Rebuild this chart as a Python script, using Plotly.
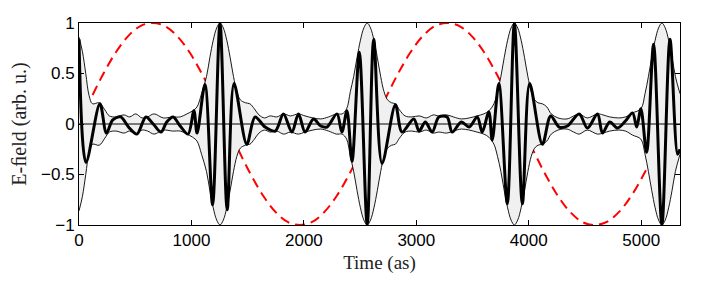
import plotly.graph_objects as go

# ---------------- data ----------------
# thick black waveform: key points (time in as, field)
wave_t = [0, 62, 186, 244, 300, 371, 440, 515, 595, 660, 729, 780, 837, 900, 970, 1022, 1050,
          1120, 1188, 1254, 1318, 1379, 1492, 1566, 1655, 1745, 1818, 1893, 1952, 2011, 2086,
          2150, 2205, 2294, 2338, 2383, 2428, 2493, 2563, 2621, 2695, 2814, 2873, 2977, 3025,
          3080, 3141, 3200, 3274, 3319, 3400, 3470, 3542, 3586, 3645, 3675, 3734, 3809, 3872,
          3943, 4008, 4121, 4195, 4270, 4344, 4448, 4522, 4611, 4656, 4720, 4790, 4860, 4923,
          4960, 4997, 5048, 5110, 5184, 5256, 5324, 5345]
wave_y = [0.84, -0.38, 0.20, -0.09, 0.04, 0.07, -0.03, -0.10, 0.07, 0.0, -0.08, 0.02, 0.07, -0.02, -0.10, 0.13, -0.09,
          0.39, -0.80, 1.0, -0.85, 0.40, -0.20, 0.07, -0.03, -0.07, 0.10, -0.08, 0.10, -0.08, 0.05,
          -0.02, -0.03, 0.10, -0.08, 0.13, -0.37, 0.71, -1.0, 0.84, -0.39, 0.19, -0.08, 0.05, -0.07,
          0.02, -0.08, 0.07, 0.07, -0.08, 0.02, -0.03, 0.07, -0.08, 0.12, -0.16, 0.40, -0.79, 1.0,
          -0.79, 0.40, -0.20, 0.08, -0.03, -0.02, 0.10, -0.04, 0.10, -0.09, 0.02, -0.04, 0.03, 0.11,
          -0.03, 0.15, -0.28, 0.79, -1.0, 0.84, -0.30, -0.25]

# envelope (upper half; the lower half is its mirror image)
env_t = [0, 30, 60, 90, 120, 180, 230, 270, 330, 400, 450, 505, 560, 610, 668, 750, 832, 900, 960,
         1010, 1050, 1090, 1134, 1164, 1194, 1224, 1254, 1284, 1314, 1344, 1374, 1404, 1434, 1480,
         1520, 1560, 1600, 1650, 1700, 1760, 1820, 1880, 1950, 2010, 2080, 2150, 2220, 2290, 2340,
         2380, 2413, 2443, 2473, 2503, 2533, 2563, 2593, 2623, 2653, 2683, 2713, 2743, 2780, 2814,
         2850, 2900, 2960, 3025, 3090, 3150, 3200, 3270, 3330, 3400, 3470, 3540, 3600, 3645, 3690,
         3722, 3752, 3782, 3812, 3842, 3872, 3902, 3932, 3962, 3992, 4022, 4052, 4082, 4121, 4160,
         4200, 4260, 4340, 4400, 4448, 4520, 4611, 4660, 4720, 4800, 4860, 4923, 4997, 5034, 5064,
         5094, 5124, 5154, 5184, 5214, 5244, 5274, 5304, 5345]
env_y = [0.86, 0.72, 0.50, 0.28, 0.20, 0.21, 0.14, 0.08, 0.07, 0.09, 0.07, 0.10, 0.06, 0.07, 0.10, 0.06, 0.07, 0.07, 0.10,
         0.13, 0.17, 0.30, 0.47, 0.66, 0.83, 0.95, 1.0, 0.95, 0.83, 0.66, 0.47, 0.32, 0.24, 0.21,
         0.20, 0.15, 0.09, 0.06, 0.08, 0.07, 0.10, 0.08, 0.10, 0.08, 0.06, 0.05, 0.07, 0.10, 0.10,
         0.15, 0.32, 0.47, 0.66, 0.83, 0.95, 1.0, 0.95, 0.83, 0.66, 0.47, 0.32, 0.24, 0.21, 0.20,
         0.14, 0.08, 0.07, 0.08, 0.06, 0.09, 0.08, 0.09, 0.07, 0.05, 0.06, 0.08, 0.10, 0.13, 0.20,
         0.32, 0.47, 0.66, 0.83, 0.95, 1.0, 0.95, 0.83, 0.66, 0.47, 0.32, 0.24, 0.21, 0.20, 0.17,
         0.10, 0.06, 0.05, 0.08, 0.10, 0.06, 0.10, 0.09, 0.07, 0.06, 0.07, 0.11, 0.15, 0.30, 0.47,
         0.66, 0.83, 0.95, 1.0, 0.95, 0.83, 0.66, 0.47, 0.30]
env_lower = [-v for v in env_y]

# driving laser field (red dashed), sampled every 1/24 of its cycle
laser_t = [0, 109, 218, 328, 437, 546, 655, 764, 873, 983, 1092, 1201, 1310, 1419, 1528, 1638,
           1747, 1856, 1965, 2074, 2183, 2293, 2402, 2511, 2620, 2729, 2838, 2948, 3057, 3166,
           3275, 3384, 3493, 3603, 3712, 3821, 3930, 4039, 4148, 4258, 4367, 4476, 4585, 4694,
           4803, 4913, 5022, 5131, 5240, 5345]
laser_y = [0, 0.26, 0.50, 0.71, 0.87, 0.97, 1.0, 0.97, 0.87, 0.71, 0.50, 0.26, 0, -0.26, -0.50, -0.71,
           -0.87, -0.97, -1.0, -0.97, -0.87, -0.71, -0.50, -0.26, 0, 0.26, 0.50, 0.71, 0.87, 0.97,
           1.0, 0.97, 0.87, 0.71, 0.50, 0.26, 0, -0.26, -0.50, -0.71, -0.87, -0.97, -1.0, -0.97,
           -0.87, -0.71, -0.50, -0.26, 0, 0.25]

x_range = [0, 5345]
y_range = [-1, 1]
x_ticks = [0, 1000, 2000, 3000, 4000, 5000]
x_ticklabels = ["0", "1000", "2000", "3000", "4000", "5000"]
y_ticks = [-1, -0.5, 0, 0.5, 1]
y_ticklabels = ["\u22121", "\u22120.5", "0", "0.5", "1"]

# ---------------- figure ----------------
fig = go.Figure()
# laser field first: the grey envelope patch hides it where they overlap
fig.add_trace(go.Scatter(x=laser_t, y=laser_y, mode="lines",
                         line=dict(color="#ff0000", width=2, dash="10px,6px", shape="spline", smoothing=1.0),
                         showlegend=False))
fig.add_trace(go.Scatter(x=env_t, y=env_y, mode="lines",
                         line=dict(color="black", width=0.9, shape="spline", smoothing=1.0),
                         hoverinfo="skip", showlegend=False))
fig.add_trace(go.Scatter(x=env_t, y=env_lower, mode="lines", fill="tonexty", fillcolor="#f0f0f0",
                         line=dict(color="black", width=0.9, shape="spline", smoothing=1.0),
                         hoverinfo="skip", showlegend=False))
fig.add_trace(go.Scatter(x=x_range, y=[0, 0], mode="lines",
                         line=dict(color="black", width=1), hoverinfo="skip", showlegend=False))
fig.add_trace(go.Scatter(x=wave_t, y=wave_y, mode="lines",
                         line=dict(color="black", width=3, shape="spline", smoothing=0.9),
                         showlegend=False))

axis_common = dict(showline=True, linecolor="black", linewidth=1, mirror="ticks",
                   ticks="inside", ticklen=5, tickcolor="black", showgrid=False, zeroline=False,
                   automargin=False,
                   tickfont=dict(family="Liberation Sans, Arial, sans-serif", size=17, color="black"))

# the page adds an 8 px body margin, so the figure is drawn 8 px smaller and offset
fig.update_layout(
    width=698, height=282,
    margin=dict(l=71, r=26, t=15, b=65),
    paper_bgcolor="white", plot_bgcolor="white",
    xaxis=dict(range=x_range, tickvals=x_ticks, ticktext=x_ticklabels,
               title=dict(text="Time (as)", font=dict(family="Liberation Serif, serif", size=19, color="#222"),
                          standoff=6),
               **axis_common),
    yaxis=dict(range=y_range, tickvals=y_ticks, ticktext=y_ticklabels,
               title=dict(text="E-ﬁeld (arb. u.)", font=dict(family="Liberation Serif, serif", size=20, color="#222"),
                          standoff=24),
               **axis_common),
)

fig.write_html("out.html")
